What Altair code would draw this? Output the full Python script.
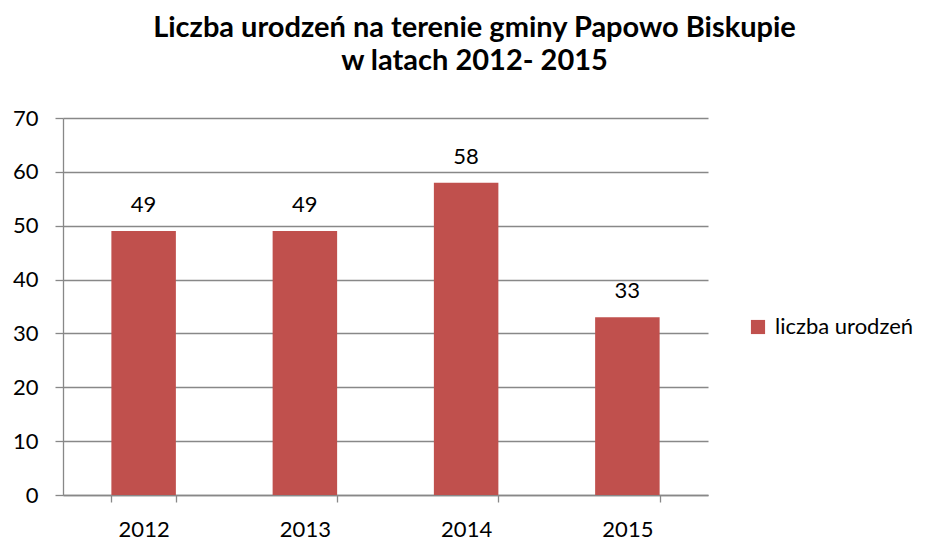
import altair as alt
import pandas as pd

years = ["2012", "2013", "2014", "2015"]
births = [49, 49, 58, 33]
series = ["liczba urodzeń"] * 4

df = pd.DataFrame({"rok": years, "liczba": births, "seria": series})

FONT = "Lato"
GRID = "#888888"
RED = "#C0504D"

x = alt.X("rok:N", title=None,
          scale=alt.Scale(paddingInner=0.6, paddingOuter=0.3),
          axis=alt.Axis(labelAngle=0, tickBand="extent", grid=False,
                        domainColor=GRID, tickColor=GRID, tickSize=7,
                        labelFont=FONT, labelFontSize=22, labelColor="#000000",
                        labelPadding=17))
y = alt.Y("liczba:Q", title=None,
          scale=alt.Scale(domain=[0, 70], nice=False),
          axis=alt.Axis(values=[0, 10, 20, 30, 40, 50, 60, 70],
                        grid=True, gridColor=GRID, gridWidth=1.3,
                        domainColor=GRID, tickColor=GRID, tickSize=8,
                        labelFont=FONT, labelFontSize=22, labelColor="#000000",
                        labelPadding=17))

bars = alt.Chart(df).mark_bar(color=RED).encode(
    x=x, y=y,
    color=alt.Color("seria:N", scale=alt.Scale(range=[RED]),
                    legend=alt.Legend(title=None, orient="none", legendX=684, legendY=198,
                                      symbolType="square", symbolSize=200,
                                      symbolStrokeWidth=0,
                                      labelFont=FONT, labelFontSize=22,
                                      labelColor="#000000", labelOffset=6)),
)

labels = alt.Chart(df).mark_text(font=FONT, fontSize=22, baseline="alphabetic",
                                 dy=-19, color="#000000").encode(
    x="rok:N", y="liczba:Q", text="liczba:Q")

chart = alt.layer(bars, labels).properties(
    width=645, height=377,
    title=alt.TitleParams(["Liczba urodzeń na terenie gminy Papowo Biskupie",
                           "w latach 2012- 2015"],
                          font=FONT, fontSize=29, fontWeight="bold",
                          lineHeight=33, anchor="middle", dx=89, offset=31,
                          color="#000000"),
    autosize=alt.AutoSizeParams(type="none"),
    padding={"left": 55, "top": 110, "right": 212, "bottom": 46},
).configure_view(stroke=None).configure_axis(domainWidth=1.3, tickWidth=1.3)

chart.save("out.html", embed_options={"renderer": "svg", "actions": False})
